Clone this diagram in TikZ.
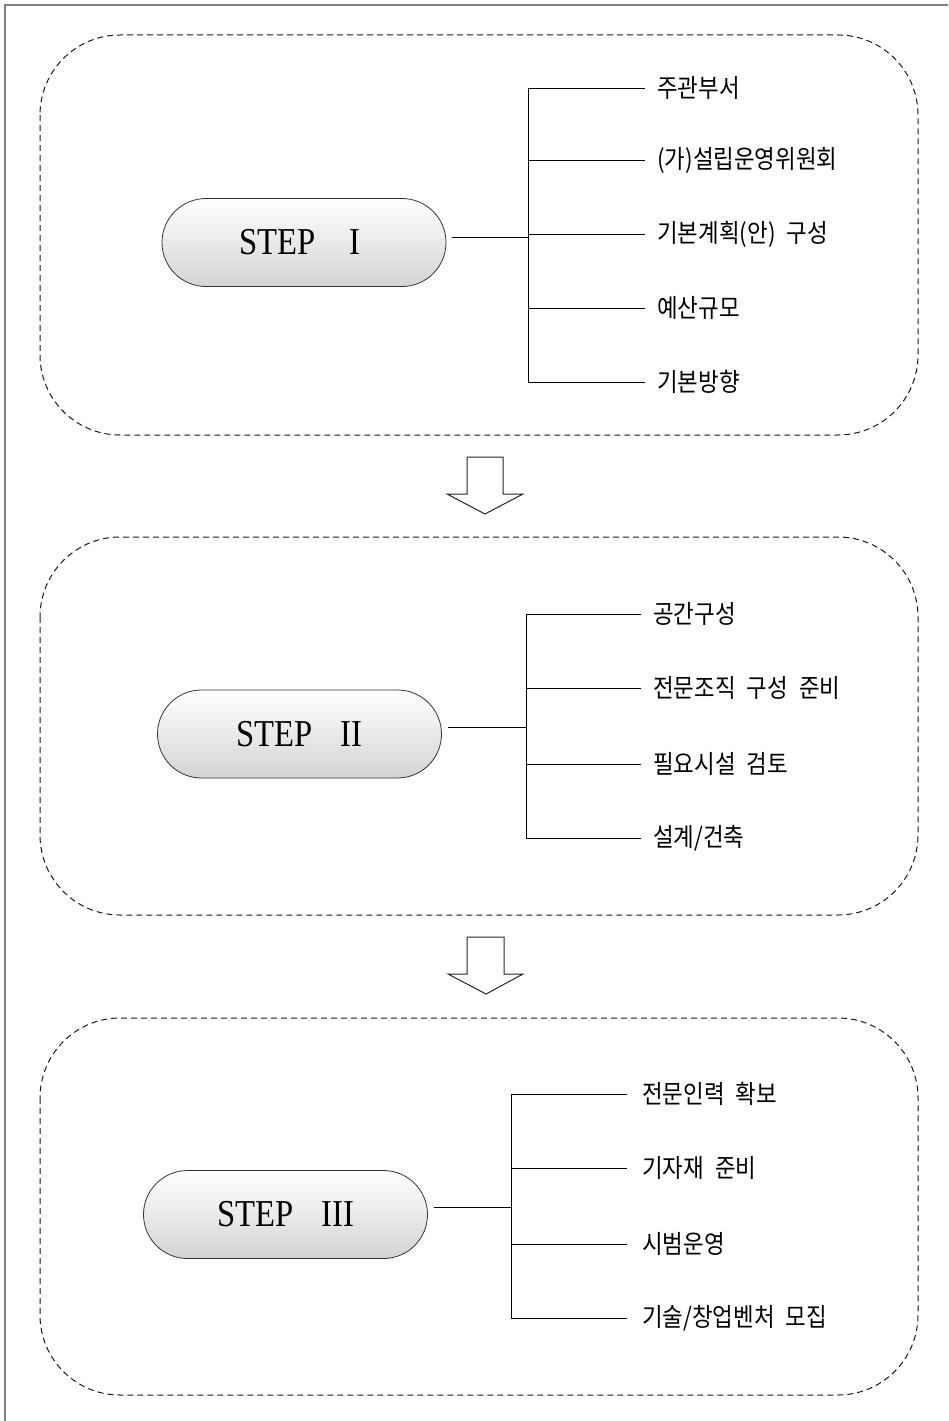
\documentclass[tikz,border=0pt]{standalone}
\usepackage{fontspec}
\newfontfamily\krfont[FakeStretch=0.88, WordSpace=2.2]{Noto Sans CJK KR}
\newfontfamily\stepfont[FakeStretch=0.86]{Liberation Serif}
\newcommand\romnum[2]{\iffontchar\font"#1 \char"#1 \else #2\fi}
\tikzset{
  stepbox/.style={draw=black!80, line width=0.8pt, rounded corners=44pt,
    minimum width=284pt, minimum height=88pt, top color=white, bottom color=black!17,
    font=\stepfont\fontsize{38}{38}\selectfont, inner sep=0pt},
  stagebox/.style={draw=black!90, line width=1pt, dash pattern=on 6pt off 4pt, rounded corners=80pt},
  lbl/.style={anchor=west, inner sep=0pt, font=\krfont\fontsize{25.5}{25.5}\selectfont},
  conn/.style={draw=black, line width=1pt},
  blockarrow/.style={draw=black!85, line width=1pt, fill=white, line join=miter},
  frame/.style={draw=black!50, line width=2pt}
}
\begin{document}
\begin{tikzpicture}[x=1pt,y=-1pt]
\useasboundingbox (0,0) rectangle (948,1421);
% outer frame (top and left visible)
\draw[frame] (5,1421) -- (5,5) -- (948,5);

% stage boxes
\draw[stagebox] (40,35) rectangle (918,435);
\draw[stagebox] (40,537) rectangle (918,915);
\draw[stagebox] (40,1018) rectangle (918,1395);

% ---------- STEP I ----------
\node[stepbox] (s1) at (304,242.5) {\hspace{-8pt}STEP\hspace{34pt}\romnum{2160}{I}};
\coordinate (t1a) at (528,88);
\coordinate (t1b) at (528,382);
\coordinate (j1) at (528,237);
\node[lbl] (a1) at (657,88) {주관부서};
\node[lbl] (a2) at (657,160) {(가)설립운영위원회};
\node[lbl] (a3) at (657,234) {기본계획(안) 구성};
\node[lbl] (a4) at (657,308) {예산규모};
\node[lbl] (a5) at (657,382) {기본방향};
\draw[conn] (t1a) -- (t1b);
\draw[conn, shorten <=6pt] (s1.east |- j1) -- (j1);
\foreach \n in {a1,a2,a3,a4,a5}
  \draw[conn, shorten >=12pt] (\n.west -| t1a) -- (\n.west);

% arrow 1
\draw[blockarrow] (467,457) -- (503,457) -- (503,494) -- (523,494) -- (485,514)
  -- (447,494) -- (467,494) -- cycle;

% ---------- STEP II ----------
\node[stepbox] (s2) at (299.5,734) {STEP\hspace{28pt}\romnum{2161}{II}};
\coordinate (t2a) at (526,614);
\coordinate (t2b) at (526,838);
\coordinate (j2) at (526,727);
\node[lbl] (b1) at (653,614) {공간구성};
\node[lbl] (b2) at (653,688) {전문조직 구성 준비};
\node[lbl] (b3) at (653,764) {필요시설 검토};
\node[lbl] (b4) at (653,838) {설계/건축};
\draw[conn] (t2a) -- (t2b);
\draw[conn, shorten <=6pt] (s2.east |- j2) -- (j2);
\foreach \n in {b1,b2,b3,b4}
  \draw[conn, shorten >=12pt] (\n.west -| t2a) -- (\n.west);

% arrow 2
\draw[blockarrow] (467,937) -- (504,937) -- (504,974) -- (523,974) -- (486,994)
  -- (448,974) -- (467,974) -- cycle;

% ---------- STEP III ----------
\node[stepbox] (s3) at (285.5,1214.5) {STEP\hspace{28pt}\romnum{2162}{III}};
\coordinate (t3a) at (511,1094);
\coordinate (t3b) at (511,1318);
\coordinate (j3) at (511,1207);
\node[lbl] (c1) at (642,1094) {전문인력 확보};
\node[lbl] (c2) at (642,1168) {기자재 준비};
\node[lbl] (c3) at (642,1244) {시범운영};
\node[lbl] (c4) at (642,1318) {기술/창업벤처 모집};
\draw[conn] (t3a) -- (t3b);
\draw[conn, shorten <=6pt] (s3.east |- j3) -- (j3);
\foreach \n in {c1,c2,c3,c4}
  \draw[conn, shorten >=15pt] (\n.west -| t3a) -- (\n.west);
\end{tikzpicture}
\end{document}
